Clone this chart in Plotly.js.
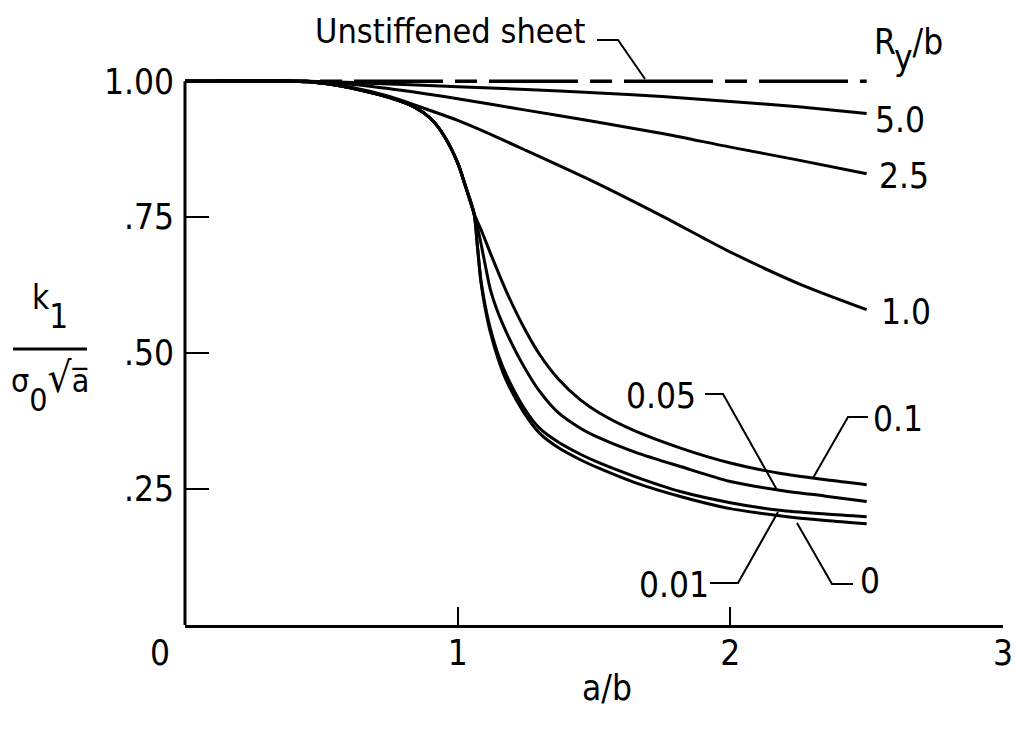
<!DOCTYPE html>
<html><head><meta charset="utf-8">
<script src="https://cdn.plot.ly/plotly-3.0.1.min.js"></script>
<style>html,body{margin:0;padding:0;background:#fff}</style>
</head><body><div id="chart" style="width:1018px;height:730px"></div>
<script>
const FONT = '"DejaVu Sans Condensed", "DejaVu Sans", sans-serif';

// ---- data (a/b vs k1 / (sigma0 sqrt a)) ----
const xUnstiffened = [0, 2.5];
const yUnstiffened = [1.0, 1.0];

const x_R50 = [0, 0.45, 0.7, 1.0, 1.25, 1.5, 1.75, 2.0, 2.25, 2.5];
const y_R50 = [1.0, 1.0, 0.996, 0.99, 0.985, 0.979, 0.972, 0.963, 0.953, 0.941];

const x_R25 = [0, 0.45, 0.6, 0.8, 1.0, 1.25, 1.5, 1.75, 2.0, 2.25, 2.5];
const y_R25 = [1.0, 1.0, 0.995, 0.983, 0.968, 0.947, 0.926, 0.904, 0.879, 0.855, 0.830];

const x_R10 = [0, 0.45, 0.6, 0.75, 0.85, 1.0, 1.1, 1.25, 1.5, 1.75, 1.9, 2.0, 2.25, 2.5];
const y_R10 = [1.0, 1.0, 0.99, 0.972, 0.955, 0.928, 0.907, 0.873, 0.815, 0.752, 0.712, 0.686, 0.628, 0.580];

const x_R01 = [0, 0.45, 0.55, 0.65, 0.75, 0.84, 0.9, 0.95, 1.0, 1.03, 1.06, 1.09, 1.12, 1.18, 1.24, 1.30, 1.37, 1.45, 1.52, 1.65, 1.82, 2.0, 2.18, 2.35, 2.5];
const y_R01 = [1.0, 0.999, 0.993, 0.983, 0.970, 0.953, 0.932, 0.900, 0.850, 0.805, 0.757, 0.722, 0.684, 0.612, 0.550, 0.498, 0.452, 0.414, 0.390, 0.357, 0.325, 0.298, 0.279, 0.267, 0.258];

const x_R005 = [0, 0.45, 0.55, 0.65, 0.75, 0.84, 0.9, 0.95, 1.0, 1.03, 1.06, 1.08, 1.10, 1.12, 1.15, 1.18, 1.24, 1.30, 1.37, 1.45, 1.52, 1.65, 1.82, 2.0, 2.18, 2.35, 2.5];
const y_R005 = [1.0, 0.999, 0.993, 0.983, 0.970, 0.953, 0.932, 0.900, 0.850, 0.805, 0.757, 0.715, 0.665, 0.617, 0.572, 0.537, 0.478, 0.430, 0.390, 0.362, 0.344, 0.318, 0.291, 0.264, 0.248, 0.237, 0.227];

const x_R001 = [0, 0.45, 0.55, 0.65, 0.75, 0.84, 0.9, 0.95, 1.0, 1.03, 1.06, 1.072, 1.085, 1.10, 1.12, 1.15, 1.18, 1.24, 1.30, 1.37, 1.45, 1.52, 1.65, 1.82, 2.0, 2.18, 2.35, 2.5];
const y_R001 = [1.0, 0.999, 0.993, 0.983, 0.970, 0.953, 0.932, 0.900, 0.850, 0.805, 0.757, 0.700, 0.635, 0.590, 0.545, 0.495, 0.458, 0.402, 0.362, 0.336, 0.314, 0.298, 0.273, 0.245, 0.225, 0.211, 0.204, 0.199];

const x_R0 = [0, 0.45, 0.55, 0.65, 0.75, 0.84, 0.9, 0.95, 1.0, 1.03, 1.06, 1.072, 1.085, 1.10, 1.12, 1.15, 1.18, 1.24, 1.30, 1.37, 1.45, 1.52, 1.65, 1.82, 2.0, 2.18, 2.35, 2.5];
const y_R0 = [1.0, 0.999, 0.993, 0.983, 0.970, 0.953, 0.932, 0.900, 0.850, 0.805, 0.757, 0.698, 0.632, 0.585, 0.538, 0.487, 0.448, 0.393, 0.353, 0.326, 0.304, 0.288, 0.262, 0.236, 0.214, 0.201, 0.192, 0.186];

const seriesNames = ["Unstiffened sheet", "5.0", "2.5", "1.0", "0.1", "0.05", "0.01", "0"];
const xTickVals = [0, 1, 2, 3];
const xTickText = ["0\u00a0\u00a0\u00a0\u00a0\u00a0", "1", "2", "3"];
const yTickVals = [0.25, 0.5, 0.75, 1.0];
const yTickText = [".25", ".50", ".75", "1.00"];

// ---- layout geometry ----
const W = 1018, H = 730;
const M = {l: 185, r: 15, t: 65, b: 105};
const PW = W - M.l - M.r, PH = H - M.t - M.b;
const YMAX = 1.03;
const px = v => (v - M.l) / PW;          // pixel -> paper x
const py = v => (M.t + PH - v) / PH;     // pixel -> paper y

const lineStyle = {color: '#000', width: 3, shape: 'spline', smoothing: 0.8};
function curve(x, y, name) {
  return {x: x, y: y, name: name, type: 'scatter', mode: 'lines', line: lineStyle, hoverinfo: 'skip'};
}

const traces = [
  {x: xUnstiffened, y: yUnstiffened, name: seriesNames[0], type: 'scatter', mode: 'lines',
   line: {color: '#000', width: 3.5, dash: '22px,12px,89px,12px'}, hoverinfo: 'skip'},
  curve(x_R50, y_R50, seriesNames[1]),
  curve(x_R25, y_R25, seriesNames[2]),
  curve(x_R10, y_R10, seriesNames[3]),
  curve(x_R01, y_R01, seriesNames[4]),
  curve(x_R005, y_R005, seriesNames[5]),
  curve(x_R001, y_R001, seriesNames[6]),
  curve(x_R0, y_R0, seriesNames[7])
];

const tf = {family: FONT, size: 35, color: '#000'};
function ann(text, xp, yp, xanchor, size) {
  return {text: text, x: px(xp), y: py(yp), xref: 'paper', yref: 'paper',
          xanchor: xanchor || 'center', yanchor: 'middle', showarrow: false,
          font: {family: FONT, size: size || 35, color: '#000'}};
}
function leader(pts) {
  let d = 'M ' + px(pts[0][0]) + ' ' + py(pts[0][1]);
  for (let i = 1; i < pts.length; i++) d += ' L ' + px(pts[i][0]) + ' ' + py(pts[i][1]);
  return {type: 'path', xref: 'paper', yref: 'paper', path: d, line: {color: '#000', width: 2}};
}

const annotations = [
  ann('Unstiffened sheet', 450, 31, 'center', 34),
  ann("R<span style='baseline-shift:-16px'>y</span>/b", 872, 50, 'left'),
  ann('5.0', 900, 120),
  ann('2.5', 904, 176),
  ann('1.0', 906, 312),
  ann('0.05', 661, 396),
  ann('0.1', 898, 419),
  ann('0.01', 674, 585),
  ann('0', 870, 581),
  ann('a/b', 607, 688),
  ann("k<span style='baseline-shift:-19px'>1</span>", 50, 307, 'center', 33),
  ann("σ<span style='baseline-shift:-19px'>0</span><span style='font-size:42px'>√</span>a\u0305", 50, 386, 'center', 32)
];

const shapes = [
  // left axis line from y=0 up to y=1.00
  {type: 'line', xref: 'paper', yref: 'paper', x0: 0, x1: 0, y0: 0, y1: 1.0 / YMAX, line: {color: '#000', width: 3}},
  leader([[597, 40], [618, 40], [645, 79]]),
  leader([[705, 394], [723, 394], [777, 490]]),
  leader([[868, 417], [848, 417], [813, 478]]),
  leader([[710, 583], [738, 583], [778, 512]]),
  leader([[853, 584], [832, 584], [797, 523]]),
  // fraction bar of y-axis title
  {type: 'line', xref: 'paper', yref: 'paper', x0: px(13), x1: px(87), y0: py(349), y1: py(349), line: {color: '#000', width: 3}}
];

const layout = {
  width: W, height: H,
  margin: M,
  paper_bgcolor: '#fff', plot_bgcolor: '#fff',
  showlegend: false,
  font: tf,
  xaxis: {range: [0, 3], showline: true, linewidth: 3, linecolor: '#000', mirror: false,
          ticks: 'inside', ticklen: 18, tickwidth: 2, tickcolor: '#000',
          tickvals: xTickVals, ticktext: xTickText, tickfont: tf, ticklabelstandoff: -5,
          showgrid: false, zeroline: false, fixedrange: true},
  yaxis: {range: [0, YMAX], showline: false,
          ticks: 'inside', ticklen: 24, tickwidth: 2, tickcolor: '#000',
          tickvals: yTickVals, ticktext: yTickText, tickfont: tf, ticklabelstandoff: 10,
          showgrid: false, zeroline: false, fixedrange: true},
  annotations: annotations,
  shapes: shapes
};

Plotly.newPlot('chart', traces, layout, {staticPlot: true, displayModeBar: false});
</script>
</body></html>
